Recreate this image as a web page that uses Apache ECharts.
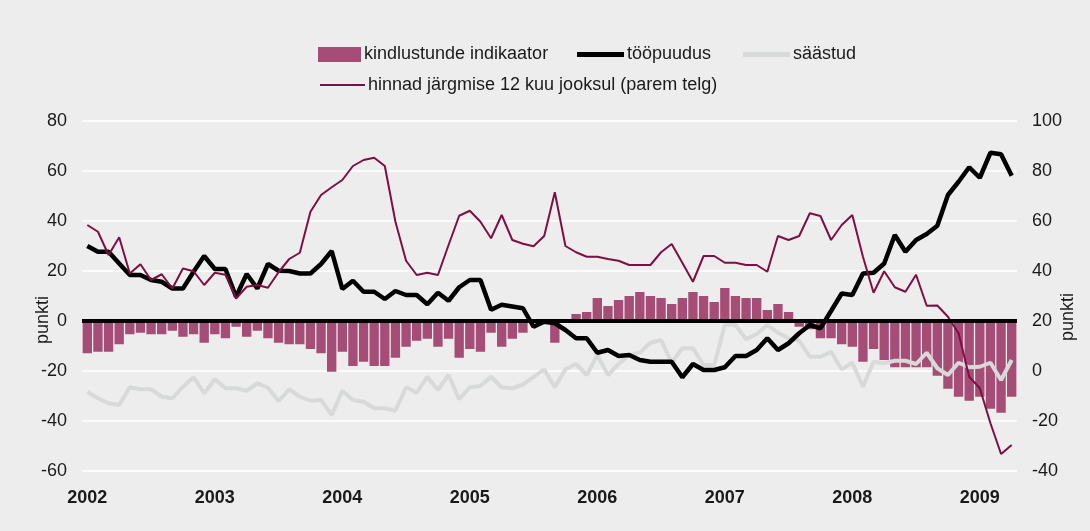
<!DOCTYPE html>
<html>
<head>
<meta charset="utf-8">
<script src="https://cdn.jsdelivr.net/npm/echarts@6/dist/echarts.min.js"></script>
<style>
  html, body { margin: 0; padding: 0; background: #ecedec; overflow: hidden; }
  #chart { width: 1090px; height: 531px; }
</style>
</head>
<body>
<div id="chart"></div>
<script>
  // aastad x-teljel (jaanuar igal aastal)
  var years = ['2002', '2003', '2004', '2005', '2006', '2007', '2008', '2009'];
  var monthCount = 88; // 2002 jaan .. 2009 apr

  // kindlustunde indikaator (tulbad, vasak telg)
  var indikaator = [
    -12.9, -12.3, -12.3, -9.3, -5.3, -4.7, -5.3, -5.3, -3.9, -6.3, -5.3, -8.7,
    -5.3, -6.9, -2.3, -6.3, -3.9, -6.9, -8.7, -9.3, -9.3, -11.2, -12.9, -20.3,
    -12.3, -18, -16.3, -18, -18, -14.7, -10.3, -7.9, -7.1, -10.3, -7.1, -14.7,
    -11.2, -12.3, -4.7, -10.3, -7.1, -4.7, 0, 0, -8.7, 0, 2.8, 3.6,
    9.2, 6, 8.4, 10, 11.6, 10, 9.2, 6.8, 9.2, 11.6, 10, 7.6,
    13.2, 10, 9.2, 9.2, 4.4, 6.8, 3.6, -2.3, -3.3, -6.9, -6.9, -9.3,
    -10.3, -16.3, -11.2, -15.6, -18.5, -18.5, -18.5, -18.5, -21.9, -27.1, -30.3, -31.9,
    -30.3, -35.1, -36.7, -30.3
  ];

  // tööpuudus (vasak telg)
  var toopuudus = [
    30, 27.7, 27.7, 23, 18.4, 18.4, 16.4, 15.7, 13, 13, 19.7, 26,
    20.8, 20.8, 9.7, 18.8, 13, 22.8, 20.1, 20, 19, 19, 22.8, 28,
    12.8, 16.1, 11.7, 11.7, 8.8, 12, 10.4, 10.4, 6.7, 11.3, 8.1, 13.5,
    16.4, 16.4, 4.5, 6.5, 5.8, 5.1, -2.3, -0.3, -0.9, -3.6, -6.9, -6.9,
    -12.7, -11.6, -14, -13.6, -15.6, -16.3, -16.3, -16.3, -22.5, -17.2, -19.6, -19.6,
    -18.5, -14, -14, -11.6, -6.9, -11.6, -8.9, -4.9, -1.6, -2.9, 4, 11,
    10.4, 19, 19.3, 23, 34.4, 27.7, 32.4, 34.8, 38.1, 50.4, 55.7, 61.5,
    57.3, 67.3, 66.7, 58.1
  ];

  // säästud (vasak telg)
  var saastud = [
    -28.3, -30.9, -32.9, -33.6, -26.5, -27.3, -27.3, -30.3, -30.9, -26.3, -22.5, -28.9,
    -23.3, -26.9, -26.9, -27.9, -24.9, -26.7, -32, -27.3, -30.3, -31.9, -31.6, -37.6,
    -27.9, -31.6, -32.3, -34.9, -34.9, -35.9, -26.5, -28.7, -22.3, -27.6, -21.6, -31.3,
    -26.5, -26, -22.3, -26.5, -26.9, -25.4, -22.4, -19.3, -26.5, -19.3, -17.2, -21.6,
    -13.6, -21.6, -17.2, -13.6, -12.7, -8.7, -7.6, -16.7, -10.9, -10.9, -17.6, -17.6,
    -1.6, -1.6, -7.3, -5.2, -1.6, -4.7, -6.9, -7.9, -14.3, -14.3, -12.3, -19.3,
    -16.7, -26.3, -16.3, -16.9, -15.9, -15.9, -17.2, -12.7, -18.9, -21.6, -16.7, -18.5,
    -18.3, -16.7, -23.6, -15.6
  ];

  // hinnad järgmise 12 kuu jooksul (parem telg)
  var hinnad = [
    58.4, 55.7, 46.4, 53.5, 39, 42.7, 36.4, 38.7, 33, 41, 39.9, 34.4,
    39.3, 38.5, 29, 33.7, 34.4, 33.3, 39.5, 44.8, 47.3, 63.7, 70.4, 73.5,
    76.4, 82, 84.4, 85.3, 82, 59.7, 44.1, 38.4, 39.3, 38.4, 50.4, 62.1,
    64.1, 59.7, 53.1, 62.4, 52.4, 50.9, 49.9, 54, 71.5, 50, 47.5, 45.7,
    45.7, 44.8, 44.1, 42.4, 42.4, 42.4, 47.5, 50.8, 43.3, 35.7, 46, 46,
    43.3, 43.3, 42.4, 42.4, 39.7, 54, 52.4, 54, 63.1, 62, 52.4, 58.4,
    62.4, 45.7, 31.3, 39.9, 33.5, 31.7, 38.5, 26.1, 26.2, 21.7, 15.1, -2.3,
    -6.9, -20.9, -33.2, -29.6
  ];

  var months = [];
  for (var i = 0; i < monthCount; i++) {
    var y = years[Math.floor(i / 12)];
    var m = (i % 12) + 1;
    months.push(y + '-' + (m < 10 ? '0' + m : m));
  }

  var font = 'Liberation Sans, Arial, Helvetica, sans-serif';
  var textColor = '#1a1a1a';
  var barColor = '#a54d77';
  var greyColor = '#d8d9d9';
  var redColor = '#7d0f45';

  // ühe legendi kirje abifunktsioon
  function legendItem(name, left, top, w, h) {
    return {
      left: left, top: top, padding: 0,
      icon: 'rect',
      itemWidth: w, itemHeight: h,
      textStyle: { fontSize: 18, color: textColor, fontFamily: font, padding: [0, 0, 0, -2] },
      data: [name]
    };
  }

  var chart = echarts.init(document.getElementById('chart'));
  chart.setOption({
    backgroundColor: '#ecedec',
    animation: false,
    textStyle: { fontFamily: font },
    legend: [
      legendItem('kindlustunde indikaator', 318, 45.5, 43, 15),
      legendItem('tööpuudus', 577, 45.5, 47, 5),
      legendItem('säästud', 743, 45.5, 47, 5),
      legendItem('hinnad järgmise 12 kuu jooksul (parem telg)', 320, 76, 45, 2)
    ],
    grid: { left: 82, right: 73, top: 121, bottom: 60, containLabel: false, outerBoundsMode: 'none' },
    xAxis: {
      type: 'category',
      data: months,
      boundaryGap: true,
      axisLine: { show: false },
      axisTick: { show: false },
      splitLine: { show: false },
      axisLabel: {
        interval: function (idx) { return idx % 12 === 0; },
        formatter: function (v) { return v.slice(0, 4); },
        fontSize: 18, fontWeight: 'bold', color: textColor, margin: 18
      }
    },
    yAxis: [
      {
        type: 'value', min: -60, max: 80, interval: 20,
        name: 'punkti', nameLocation: 'middle', nameRotate: 90, nameGap: 30,
        nameMoveOverlap: false,
        nameTextStyle: { fontSize: 18, color: textColor, padding: [0, 48, 0, 0] },
        axisLine: { show: false }, axisTick: { show: false },
        axisLabel: { fontSize: 18, color: textColor, margin: 15 },
        splitLine: { lineStyle: { color: '#ffffff', width: 1.5 } }
      },
      {
        type: 'value', min: -40, max: 100, interval: 20,
        name: 'punkti', nameLocation: 'middle', nameRotate: 90, nameGap: 42,
        nameMoveOverlap: false,
        nameTextStyle: { fontSize: 18, color: textColor, padding: [0, 42, 0, 0] },
        axisLine: { show: false }, axisTick: { show: false },
        axisLabel: { fontSize: 18, color: textColor, margin: 15 },
        splitLine: { show: false }
      }
    ],
    series: [
      {
        name: 'kindlustunde indikaator',
        type: 'bar',
        data: indikaator,
        barCategoryGap: '12%',
        itemStyle: { color: barColor },
        markLine: {
          silent: true,
          symbol: 'none',
          label: { show: false },
          lineStyle: { color: '#000000', width: 4, type: 'solid' },
          data: [{ yAxis: 0 }]
        }
      },
      {
        name: 'säästud',
        type: 'line',
        data: saastud,
        symbol: 'none',
        lineStyle: { color: greyColor, width: 4 },
        itemStyle: { color: greyColor }
      },
      {
        name: 'tööpuudus',
        type: 'line',
        data: toopuudus,
        symbol: 'none',
        lineStyle: { color: '#000000', width: 4.5 },
        itemStyle: { color: '#000000' }
      },
      {
        name: 'hinnad järgmise 12 kuu jooksul (parem telg)',
        type: 'line',
        yAxisIndex: 1,
        data: hinnad,
        symbol: 'none',
        lineStyle: { color: redColor, width: 2 },
        itemStyle: { color: redColor }
      }
    ]
  });
</script>
</body>
</html>
